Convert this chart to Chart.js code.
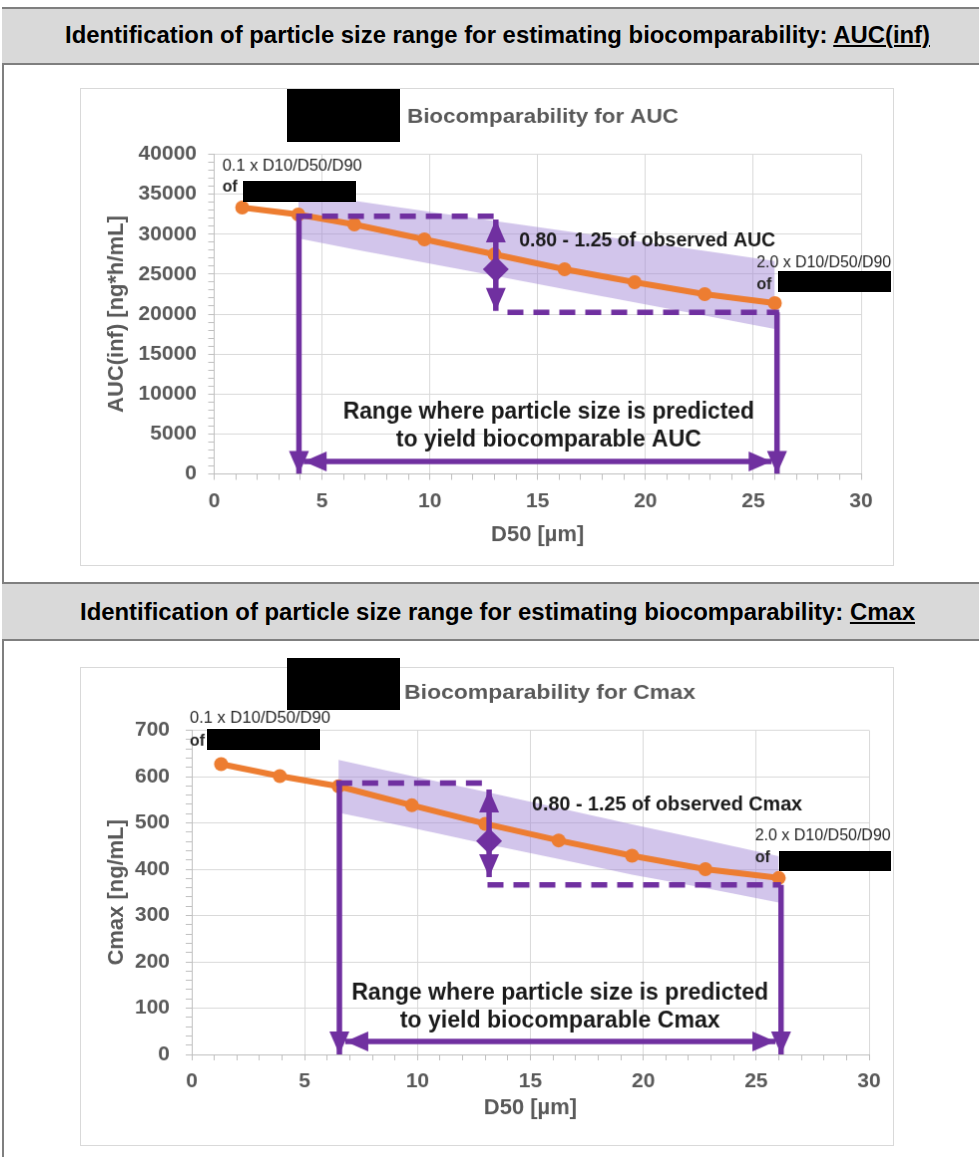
<!DOCTYPE html>
<html>
<head>
<meta charset="utf-8">
<script src="https://cdn.jsdelivr.net/npm/chart.js@4.4.1/dist/chart.umd.min.js"></script>
<style>
  html, body { margin: 0; padding: 0; background: #fff; }
  body { width: 979px; height: 1157px; position: relative; overflow: hidden; font-family: "Liberation Sans", Arial, sans-serif; }
  .frame { position: absolute; left: 2px; top: 7px; width: 2px; height: 1160px; background: #7f7f7f; }
  .hdr { position: absolute; left: 2px; width: 990px; box-sizing: border-box; background: #d9d9d9;
         border-top: 2px solid #7f7f7f; border-bottom: 2px solid #7f7f7f; }
  .htext { position: absolute; white-space: nowrap; font-weight: bold; font-size: 23px; line-height: 26px;
           color: #000; transform-origin: 0 50%; }
  .htext u { text-decoration-thickness: 1.5px; text-underline-offset: 2px; }
  canvas { position: absolute; border: 1px solid #d9d9d9; background: #fff; }
  .redact { position: absolute; background: #000; }
</style>
</head>
<body>
<div class="frame"></div>
<div class="hdr" style="top:7px;height:58px"></div>
<div class="hdr" style="top:582px;height:59px"></div>
<span class="htext" data-w="865" style="left:65px;top:22px">Identification of particle size range for estimating biocomparability: <u>AUC(inf)</u></span>
<span class="htext" data-w="835" style="left:80px;top:599px">Identification of particle size range for estimating biocomparability: <u>Cmax</u></span>

<canvas id="aucChart" width="814" height="478" style="left:80px;top:88px"></canvas>
<canvas id="cmaxChart" width="814" height="479" style="left:80px;top:667px"></canvas>

<!-- redacted product names -->
<div class="redact" style="left:287px;top:89px;width:113px;height:53px"></div>
<div class="redact" style="left:243px;top:181px;width:113px;height:21px"></div>
<div class="redact" style="left:778px;top:271px;width:113px;height:21px"></div>
<div class="redact" style="left:287px;top:658px;width:113px;height:52px"></div>
<div class="redact" style="left:207px;top:729px;width:113px;height:21px"></div>
<div class="redact" style="left:779px;top:851px;width:112px;height:20px"></div>

<script>
// ---- data ----
const d50 = [1.3, 3.9, 6.5, 9.75, 13, 16.25, 19.5, 22.75, 26];
const aucInf = [33330, 32460, 31220, 29350, 27480, 25610, 23990, 22490, 21370];
const cmax = [627, 601, 579, 538, 498, 462, 429, 400, 381];

const aucBandX = [3.9, 6.5, 9.75, 13, 16.25, 19.5, 22.75, 26];
const aucBandUpper = [35150, 34160, 32910, 31660, 30390, 29150, 27900, 26650];
const aucBandLower = [29470, 28110, 26460, 24800, 23120, 21460, 19800, 18140];

const cmaxBandX = [6.5, 9.75, 13, 16.25, 19.5, 22.75, 26];
const cmaxBandUpper = [636, 601, 567, 532, 497, 463, 428];
const cmaxBandLower = [522, 489, 455, 422, 388, 359, 328];

// purple guide lines [x, y]
const aucDashUpper = [[3.8, 32250], [13.1, 32250]];
const aucDashLower = [[13.6, 20210], [26.2, 20210]];
const aucDropLow = [[3.93, 32250], [3.93, 0]];
const aucDropHigh = [[26.1, 20210], [26.1, 0]];
const aucRatioArrow = [[13.06, 31830], [13.06, 20410]];
const aucRatioMid = [13.06, 25610];
const aucRangeArrow = [[4.15, 1560], [25.85, 1560]];

const cmaxDashUpper = [[6.4, 586], [13.1, 586]];
const cmaxDashLower = [[13.1, 366], [26.1, 366]];
const cmaxDropLow = [[6.54, 586], [6.54, 0]];
const cmaxDropHigh = [[26.1, 366], [26.1, 0]];
const cmaxRatioArrow = [[13.17, 572], [13.17, 383]];
const cmaxRatioMid = [13.17, 461];
const cmaxRangeArrow = [[6.8, 28], [25.85, 28]];

// tick labels
const xTickLabels = [0, 5, 10, 15, 20, 25, 30];
const aucTickLabels = [0, 5000, 10000, 15000, 20000, 25000, 30000, 35000, 40000];
const cmaxTickLabels = [0, 100, 200, 300, 400, 500, 600, 700];

// ---- style ----
const FONT = '"Liberation Sans", Arial, sans-serif';
const PURPLE = '#7030A0';
const ORANGE = '#ED7D31';
const BAND = 'rgba(160,132,212,0.47)';
const GRAY = '#595959';
const GRID = '#d9d9d9';
const AXIS = '#bfbfbf';

function pts(xs, ys){ return xs.map((x, i) => ({ x, y: ys[i] })); }
function pairPts(arr){ return arr.map(p => ({ x: p[0], y: p[1] })); }

function purple(arr, extra){
  return Object.assign({
    data: pairPts(arr),
    borderColor: PURPLE,
    backgroundColor: PURPLE,
    borderWidth: 5.5,
    borderCapStyle: 'butt',
    pointRadius: 0,
    fill: false,
    order: 1
  }, extra || {});
}

// arrow heads on guide lines
const arrowPlugin = {
  id: 'arrowHeads',
  afterDatasetsDraw(chart){
    const ctx = chart.ctx;
    chart.data.datasets.forEach((ds, i) => {
      if(!ds.heads) return;
      const p = chart.getDatasetMeta(i).data;
      const n = p.length;
      ds.heads.forEach(h => {
        const tip = h === 'end' ? p[n - 1] : p[0];
        const from = h === 'end' ? p[n - 2] : p[1];
        const ang = Math.atan2(tip.y - from.y, tip.x - from.x);
        ctx.save();
        ctx.translate(tip.x, tip.y);
        ctx.rotate(ang);
        ctx.beginPath();
        ctx.moveTo(0, 0);
        ctx.lineTo(-23, -10);
        ctx.lineTo(-23, 10);
        ctx.closePath();
        ctx.fillStyle = ds.borderColor;
        ctx.fill();
        ctx.restore();
      });
    });
  }
};

// free text notes (title, labels) - optionally squeezed to a width
const notesPlugin = {
  id: 'notes',
  afterDraw(chart, args, opts){
    const ctx = chart.ctx;
    const xs = chart.scales.x, ys = chart.scales.y;
    (opts.items || []).forEach(it => {
      const px = it.data ? xs.getPixelForValue(it.at[0]) : it.at[0];
      const py = it.data ? ys.getPixelForValue(it.at[1]) : it.at[1];
      ctx.save();
      ctx.font = it.font;
      ctx.fillStyle = it.color || '#000';
      ctx.textBaseline = 'middle';
      ctx.textAlign = it.align || 'left';
      const nat = ctx.measureText(it.text).width;
      const sx = it.width ? it.width / nat : 1;
      ctx.translate(px, py);
      ctx.scale(sx, 1);
      ctx.fillText(it.text, 0, 0);
      ctx.restore();
    });
  }
};

function buildChart(id, o){
  const datasets = [
    { label: 'upper', data: pts(o.bandX, o.bandUpper), borderColor: 'transparent', borderWidth: 1,
      backgroundColor: BAND, fill: '+1', pointRadius: 0, order: 5 },
    { label: 'lower', data: pts(o.bandX, o.bandLower), borderColor: 'transparent', borderWidth: 1,
      fill: false, pointRadius: 0, order: 5 },
    { label: 'predicted', data: pts(d50, o.values), borderColor: ORANGE, backgroundColor: ORANGE,
      borderWidth: 6, pointRadius: 7, pointBorderWidth: 0, pointBackgroundColor: ORANGE, fill: false, order: 4 },
    purple(o.dashUpper, { borderDash: [16, 10] }),
    purple(o.dashLower, { borderDash: [16, 10] }),
    purple(o.dropLow, { heads: ['end'] }),
    purple(o.dropHigh, { heads: ['end'] }),
    purple(o.ratioArrow, { heads: ['start', 'end'] }),
    purple(o.rangeArrow, { heads: ['start', 'end'] }),
    { data: [{ x: o.ratioMid[0], y: o.ratioMid[1] }], showLine: false, pointStyle: 'rectRot',
      pointRadius: 13, pointBackgroundColor: PURPLE, pointBorderWidth: 0, order: 1 }
  ];

  const tickFont = { family: FONT, size: 21, weight: 'bold' };
  const titleFont = { family: FONT, size: 22, weight: 'bold' };

  return new Chart(document.getElementById(id), {
    type: 'line',
    data: { datasets },
    plugins: [arrowPlugin, notesPlugin],
    options: {
      responsive: false,
      animation: false,
      layout: { padding: { left: 0, top: o.padTop, right: o.padRight, bottom: 0 } },
      plugins: {
        legend: { display: false },
        tooltip: { enabled: false },
        notes: { items: o.notes }
      },
      elements: { line: { tension: 0 } },
      scales: {
        x: {
          type: 'linear', min: 0, max: 30,
          afterFit: s => { s.height = o.xAxisH; },
          ticks: {
            stepSize: 1, autoSkip: false, maxRotation: 0, padding: o.xTickPad,
            color: GRAY, font: tickFont,
            callback: v => xTickLabels.includes(v) ? String(v) : ''
          },
          grid: {
            color: c => xTickLabels.includes(c.tick && c.tick.value) ? GRID : 'rgba(0,0,0,0)',
            tickColor: AXIS, tickLength: 6
          },
          border: { color: AXIS },
          title: { display: true, text: 'D50 [µm]', color: GRAY, font: titleFont,
                   padding: { top: 0, bottom: o.xTitlePad } }
        },
        y: {
          type: 'linear', min: 0, max: o.yMax,
          afterFit: s => { s.width = o.yAxisW; },
          ticks: {
            stepSize: o.yMinor, autoSkip: false, padding: o.yTickPad,
            color: GRAY, font: tickFont,
            callback: v => o.yLabels.includes(v) ? String(v) : ''
          },
          grid: {
            color: c => o.yLabels.includes(c.tick && c.tick.value) ? GRID : 'rgba(0,0,0,0)',
            tickColor: AXIS, tickLength: 6
          },
          border: { color: AXIS },
          title: { display: true, text: o.yTitle, color: GRAY, font: titleFont,
                   padding: { top: 22.8, bottom: 0 } }
        }
      }
    }
  });
}

const small = '16px ' + FONT;
const smallOf = 'bold 16px ' + FONT;
const bold19 = 'bold 20px ' + FONT;
const bold24 = 'bold 24px ' + FONT;
const bold20 = 'bold 21px ' + FONT;
const NOTE = '#262626';

buildChart('aucChart', {
  values: aucInf, bandX: aucBandX, bandUpper: aucBandUpper, bandLower: aucBandLower,
  dashUpper: aucDashUpper, dashLower: aucDashLower, dropLow: aucDropLow, dropHigh: aucDropHigh,
  ratioArrow: aucRatioArrow, ratioMid: aucRatioMid, rangeArrow: aucRangeArrow,
  yMax: 40000, yMinor: 1000, yLabels: aucTickLabels, yTitle: 'AUC(inf) [ng*h/mL]',
  padTop: 65.5, padRight: 32, yAxisW: 133.5, xAxisH: 91.5,
  yTickPad: 11.5, xTickPad: 9, xTitlePad: 16.8,
  notes: [
    { text: 'Biocomparability for AUC', at: [327, 28], font: bold20, color: GRAY, width: 272 },
    { text: '0.1 x D10/D50/D90', at: [0.38, 38440], data: true, font: small, color: NOTE, width: 140 },
    { text: 'of', at: [0.38, 35830], data: true, font: smallOf, color: NOTE },
    { text: '2.0 x D10/D50/D90', at: [25.15, 26360], data: true, font: small, color: NOTE, width: 135 },
    { text: 'of', at: [25.15, 23610], data: true, font: smallOf, color: NOTE },
    { text: '0.80 - 1.25 of observed AUC', at: [14.14, 29220], data: true, font: bold19, color: '#1a1a1a', width: 257 },
    { text: 'Range where particle size is predicted', at: [15.51, 7790], data: true, font: bold24, color: '#1a1a1a', align: 'center', width: 412 },
    { text: 'to yield biocomparable AUC', at: [15.51, 4300], data: true, font: bold24, color: '#1a1a1a', align: 'center', width: 306 }
  ]
});

buildChart('cmaxChart', {
  values: cmax, bandX: cmaxBandX, bandUpper: cmaxBandUpper, bandLower: cmaxBandLower,
  dashUpper: cmaxDashUpper, dashLower: cmaxDashLower, dropLow: cmaxDropLow, dropHigh: cmaxDropHigh,
  ratioArrow: cmaxRatioArrow, ratioMid: cmaxRatioMid, rangeArrow: cmaxRangeArrow,
  yMax: 700, yMinor: 20, yLabels: cmaxTickLabels, yTitle: 'Cmax [ng/mL]',
  padTop: 62.5, padRight: 24, yAxisW: 111, xAxisH: 91,
  yTickPad: 16, xTickPad: 8.5, xTitlePad: 23.8,
  notes: [
    { text: 'Biocomparability for Cmax', at: [324, 25], font: bold20, color: GRAY, width: 292 },
    { text: '0.1 x D10/D50/D90', at: [-0.09, 725], data: true, font: small, color: NOTE, width: 141 },
    { text: 'of', at: [-0.09, 677], data: true, font: smallOf, color: NOTE },
    { text: '2.0 x D10/D50/D90', at: [24.95, 472], data: true, font: small, color: NOTE, width: 136 },
    { text: 'of', at: [24.95, 424], data: true, font: smallOf, color: NOTE },
    { text: '0.80 - 1.25 of observed Cmax', at: [15.07, 538], data: true, font: bold19, color: '#1a1a1a', width: 271 },
    { text: 'Range where particle size is predicted', at: [16.31, 133], data: true, font: bold24, color: '#1a1a1a', align: 'center', width: 418 },
    { text: 'to yield biocomparable Cmax', at: [16.31, 73], data: true, font: bold24, color: '#1a1a1a', align: 'center', width: 321 }
  ]
});

// squeeze header lines to their measured widths
document.querySelectorAll('.htext').forEach(sp => {
  const w = sp.getBoundingClientRect().width;
  sp.style.transform = 'scaleX(' + (Number(sp.dataset.w) / w) + ')';
});
</script>
</body>
</html>
